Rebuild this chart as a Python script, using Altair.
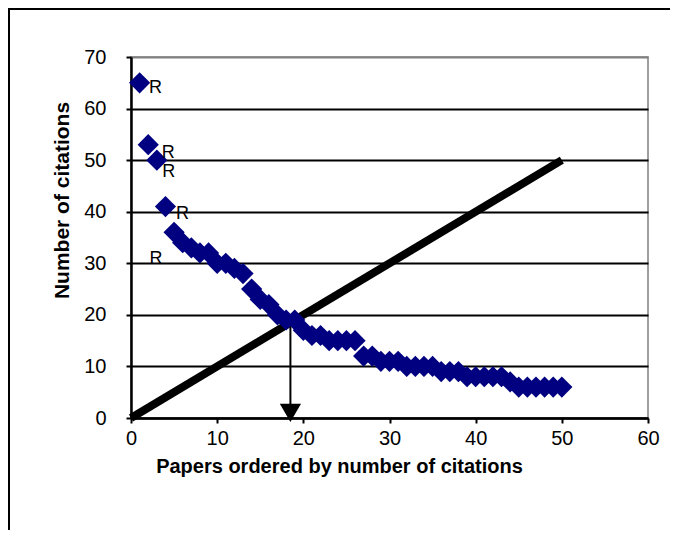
import altair as alt
import pandas as pd

# ---- data ----
paper_rank = list(range(1, 51))
citations = [65, 53, 50, 41, 36, 34, 33, 32, 32, 30,
             30, 29, 28, 25, 23, 22, 20, 19, 19, 17,
             16, 16, 15, 15, 15, 15, 12, 12, 11, 11,
             11, 10, 10, 10, 10, 9, 9, 9, 8, 8,
             8, 8, 8, 7, 6, 6, 6, 6, 6, 6]
diag_x = [0, 50]
diag_y = [0, 50]
arrow_x = [18.5]
arrow_top = [19]
arrow_bottom = [1]
label_rank = [1, 2, 3, 4, 5]
label_text = ["R", "R", "R", "R", "R"]
x_ticks = [0, 10, 20, 30, 40, 50, 60]
y_ticks = [0, 10, 20, 30, 40, 50, 60, 70]

# ---- style ----
FONT = "Liberation Sans"
label_dx = [16, 20, 12, 17, -18]
label_dy = [5, 8, 12, 7, 27]
W, H = 517, 361
PAD = {"left": 123, "top": 49, "right": 22, "bottom": 112}

pts = pd.DataFrame({"rank": paper_rank, "cit": citations})
diag = pd.DataFrame({"rank": diag_x, "cit": diag_y})
arrow = pd.DataFrame({"rank": arrow_x, "top": arrow_top, "bottom": arrow_bottom})
labels = pd.DataFrame({"rank": label_rank,
                       "cit": [citations[r - 1] for r in label_rank],
                       "txt": label_text})

xs = alt.Scale(domain=[0, 60], nice=False, zero=False)
ys = alt.Scale(domain=[0, 70], nice=False, zero=False)

x_axis = alt.Axis(values=x_ticks, grid=False, title="Papers ordered by number of citations",
                  labelFont=FONT, labelFontSize=20, labelColor="black", labelPadding=5,
                  labelFlush=False, tickColor="black", tickWidth=2, tickSize=5,
                  domainColor="black", domainWidth=2.5,
                  titleFont=FONT, titleFontSize=20, titleFontWeight="bold", titleColor="black",
                  titleX=208, titleY=48, titleAlign="center", titleBaseline="middle")
y_axis = alt.Axis(values=y_ticks, grid=True,
                  gridColor={"condition": {"test": "datum.value === 70", "value": "#808080"}, "value": "black"},
                  gridWidth=2, title="Number of citations",
                  labelFont=FONT, labelFontSize=20, labelColor="black", labelPadding=20,
                  labelFlush=False, tickColor="black", tickWidth=2, tickSize=5,
                  domainColor="black", domainWidth=2.5,
                  titleFont=FONT, titleFontSize=21, titleFontWeight="bold", titleColor="black",
                  titleX=-69, titleY=143, titleAlign="center", titleBaseline="middle", titleAngle=270)

# outer chart frame (left and top edges; right/bottom lie outside the picture)
one = pd.DataFrame({"f": [0]})
frame_left = alt.Chart(one).mark_rule(color="black", strokeWidth=2).encode(
    x=alt.value(-PAD["left"] + 1), y=alt.value(-PAD["top"]), y2=alt.value(H + PAD["bottom"]))
frame_top = alt.Chart(one).mark_rule(color="black", strokeWidth=2).encode(
    x=alt.value(-PAD["left"]), x2=alt.value(W + PAD["right"]), y=alt.value(-PAD["top"] + 1))

diag_line = alt.Chart(diag).mark_line(color="black", strokeWidth=8).encode(
    x=alt.X("rank:Q", scale=xs, axis=x_axis),
    y=alt.Y("cit:Q", scale=ys, axis=y_axis),
)

arrow_rule = alt.Chart(arrow).mark_rule(color="black", strokeWidth=2).encode(
    x=alt.X("rank:Q", scale=xs), y=alt.Y("top:Q", scale=ys), y2="bottom:Q"
)
arrow_head = alt.Chart(arrow).mark_point(
    shape="triangle-down", filled=True, color="black", size=450, opacity=1, dy=-8
).encode(x=alt.X("rank:Q", scale=xs), y=alt.Y("bottom:Q", scale=ys))

points = alt.Chart(pts).mark_point(
    shape="diamond", filled=True, color="#000080", size=450, opacity=1
).encode(x=alt.X("rank:Q", scale=xs), y=alt.Y("cit:Q", scale=ys))

label_layers = []
for r, dx, dy in zip(label_rank, label_dx, label_dy):
    label_layers.append(
        alt.Chart(labels).transform_filter(alt.datum.rank == r).mark_text(
            font=FONT, fontSize=18, color="black", align="center", baseline="middle", dx=dx, dy=dy
        ).encode(x=alt.X("rank:Q", scale=xs), y=alt.Y("cit:Q", scale=ys), text="txt:N")
    )

chart = alt.layer(frame_left, frame_top, diag_line, arrow_rule, arrow_head, points, *label_layers).properties(
    width=W, height=H,
    padding=PAD,
    autosize=alt.AutoSizeParams(type="none"),
    background="white",
).configure_view(stroke="#808080", strokeWidth=1.5)

chart.save("out.html", embed_options={"renderer": "svg", "actions": False})
